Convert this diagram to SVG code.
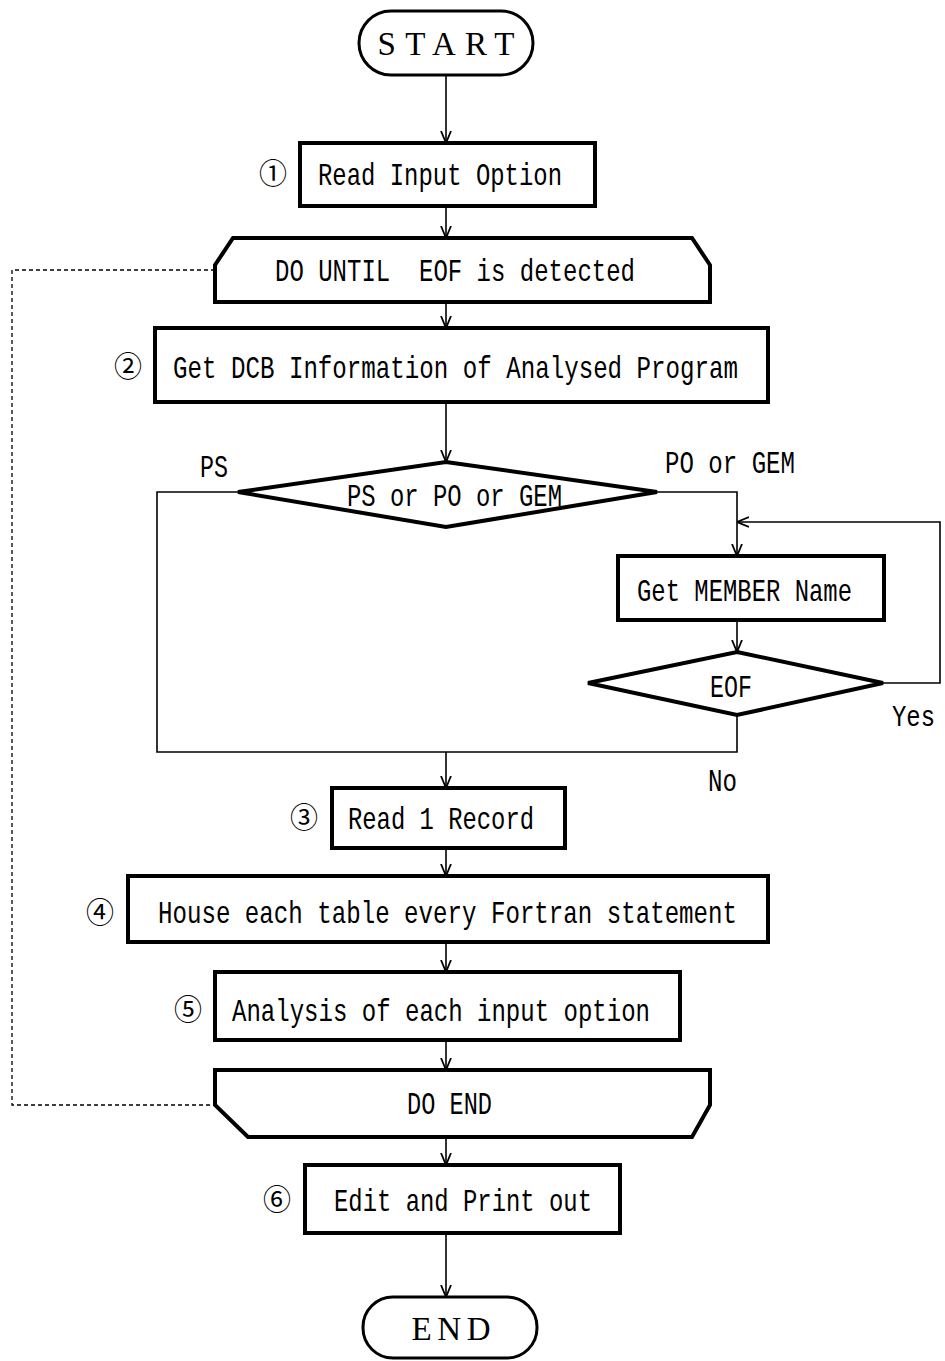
<svg xmlns="http://www.w3.org/2000/svg" width="945" height="1361" viewBox="0 0 945 1361">
<defs>
<marker id="ah" viewBox="0 0 12 12" refX="12" refY="6" markerWidth="12" markerHeight="12" markerUnits="userSpaceOnUse" orient="auto">
<path d="M0,1 L12,6 L0,11" fill="none" stroke="#000" stroke-width="1.8"/>
</marker>
<style>
.b{fill:#fff;stroke:#000;stroke-width:4;stroke-linejoin:miter}
.p{fill:#fff;stroke:#000;stroke-width:3}
.c{fill:none;stroke:#000;stroke-width:1.6}
.d{fill:none;stroke:#000;stroke-width:1.3;stroke-dasharray:4 3}
.t{font-family:"Liberation Mono",monospace;font-size:32px;fill:#000}
.s{font-family:"Liberation Serif",serif;font-size:33px;fill:#000}
.n{font-family:"Noto Sans CJK JP","DejaVu Sans",sans-serif;font-size:28px;fill:#000}
</style>
</defs>
<rect width="945" height="1361" fill="#fff"/>
<g id="connectors">
<line class="c" x1="446" y1="76" x2="446" y2="143" marker-end="url(#ah)"/>
<line class="c" x1="446" y1="206" x2="446" y2="238" marker-end="url(#ah)"/>
<line class="c" x1="446" y1="302" x2="446" y2="328" marker-end="url(#ah)"/>
<line class="c" x1="446" y1="402" x2="446" y2="462" marker-end="url(#ah)"/>
<polyline class="c" points="238,492 157,492 157,752 737,752 737,715"/>
<polyline class="c" points="657,492 737,492 737,556" marker-end="url(#ah)"/>
<polyline class="c" points="883,683 940,683 940,522 737,522" marker-end="url(#ah)"/>
<line class="c" x1="737" y1="620" x2="737" y2="652" marker-end="url(#ah)"/>
<line class="c" x1="446" y1="752" x2="446" y2="788" marker-end="url(#ah)"/>
<line class="c" x1="446" y1="848" x2="446" y2="876" marker-end="url(#ah)"/>
<line class="c" x1="446" y1="942" x2="446" y2="972" marker-end="url(#ah)"/>
<line class="c" x1="446" y1="1040" x2="446" y2="1070" marker-end="url(#ah)"/>
<line class="c" x1="446" y1="1137" x2="446" y2="1165" marker-end="url(#ah)"/>
<line class="c" x1="446" y1="1233" x2="446" y2="1297" marker-end="url(#ah)"/>
<polyline class="d" points="215,270 12,270 12,1105 215,1105"/>
</g>
<g id="start">
<rect class="p" x="359" y="11" width="174" height="64" rx="32" ry="32"/>
<text class="s" x="446" y="55" text-anchor="middle" textLength="137" lengthAdjust="spacing">START</text>
</g>
<g id="step1">
<rect class="b" x="300" y="143" width="295" height="63"/>
<text class="n" x="273" y="184" text-anchor="middle">①</text>
<text class="t" x="318" y="185" textLength="244" lengthAdjust="spacingAndGlyphs">Read Input Option</text>
</g>
<g id="do-until">
<path class="b" d="M233,238 L692,238 L710,265 L710,302 L215,302 L215,265 Z"/>
<text class="t" x="275" y="281" textLength="360" lengthAdjust="spacingAndGlyphs" xml:space="preserve">DO UNTIL  EOF is detected</text>
</g>
<g id="step2">
<rect class="b" x="155" y="328" width="613" height="74"/>
<text class="n" x="128" y="377" text-anchor="middle">②</text>
<text class="t" x="173" y="378" textLength="565" lengthAdjust="spacingAndGlyphs">Get DCB Information of Analysed Program</text>
</g>
<g id="decision-type">
<polygon class="b" points="446,462 657,492 446,527 238,492"/>
<text class="t" x="347" y="506" textLength="215" lengthAdjust="spacingAndGlyphs">PS or PO or GEM</text>
<text class="t" x="200" y="477" textLength="28" lengthAdjust="spacingAndGlyphs">PS</text>
<text class="t" x="665" y="473" textLength="130" lengthAdjust="spacingAndGlyphs">PO or GEM</text>
</g>
<g id="get-member">
<rect class="b" x="618" y="556" width="266" height="64"/>
<text class="t" x="637" y="601" textLength="215" lengthAdjust="spacingAndGlyphs">Get MEMBER Name</text>
</g>
<g id="decision-eof">
<polygon class="b" points="737,652 883,683 737,715 588,683"/>
<text class="t" x="710" y="697" textLength="42" lengthAdjust="spacingAndGlyphs">EOF</text>
<text class="t" x="892" y="726" style="font-size:29px" textLength="43" lengthAdjust="spacingAndGlyphs">Yes</text>
<text class="t" x="708" y="791" textLength="29" lengthAdjust="spacingAndGlyphs">No</text>
</g>
<g id="step3">
<rect class="b" x="332" y="788" width="233" height="60"/>
<text class="n" x="304" y="828" text-anchor="middle">③</text>
<text class="t" x="348" y="829" textLength="186" lengthAdjust="spacingAndGlyphs">Read 1 Record</text>
</g>
<g id="step4">
<rect class="b" x="128" y="876" width="640" height="66"/>
<text class="n" x="100" y="923" text-anchor="middle">④</text>
<text class="t" x="158" y="923" textLength="579" lengthAdjust="spacingAndGlyphs">House each table every Fortran statement</text>
</g>
<g id="step5">
<rect class="b" x="215" y="972" width="465" height="68"/>
<text class="n" x="188" y="1020" text-anchor="middle">⑤</text>
<text class="t" x="232" y="1021" textLength="418" lengthAdjust="spacingAndGlyphs">Analysis of each input option</text>
</g>
<g id="do-end">
<path class="b" d="M215,1070 L710,1070 L710,1105 L692,1137 L248,1137 L215,1105 Z"/>
<text class="t" x="407" y="1114" textLength="85" lengthAdjust="spacingAndGlyphs">DO END</text>
</g>
<g id="step6">
<rect class="b" x="305" y="1165" width="315" height="68"/>
<text class="n" x="277" y="1210" text-anchor="middle">⑥</text>
<text class="t" x="334" y="1211" textLength="258" lengthAdjust="spacingAndGlyphs">Edit and Print out</text>
</g>
<g id="end">
<rect class="p" x="363" y="1297" width="174" height="61" rx="30" ry="30"/>
<text class="s" x="451" y="1340" text-anchor="middle" textLength="79" lengthAdjust="spacing">END</text>
</g>
</svg>
